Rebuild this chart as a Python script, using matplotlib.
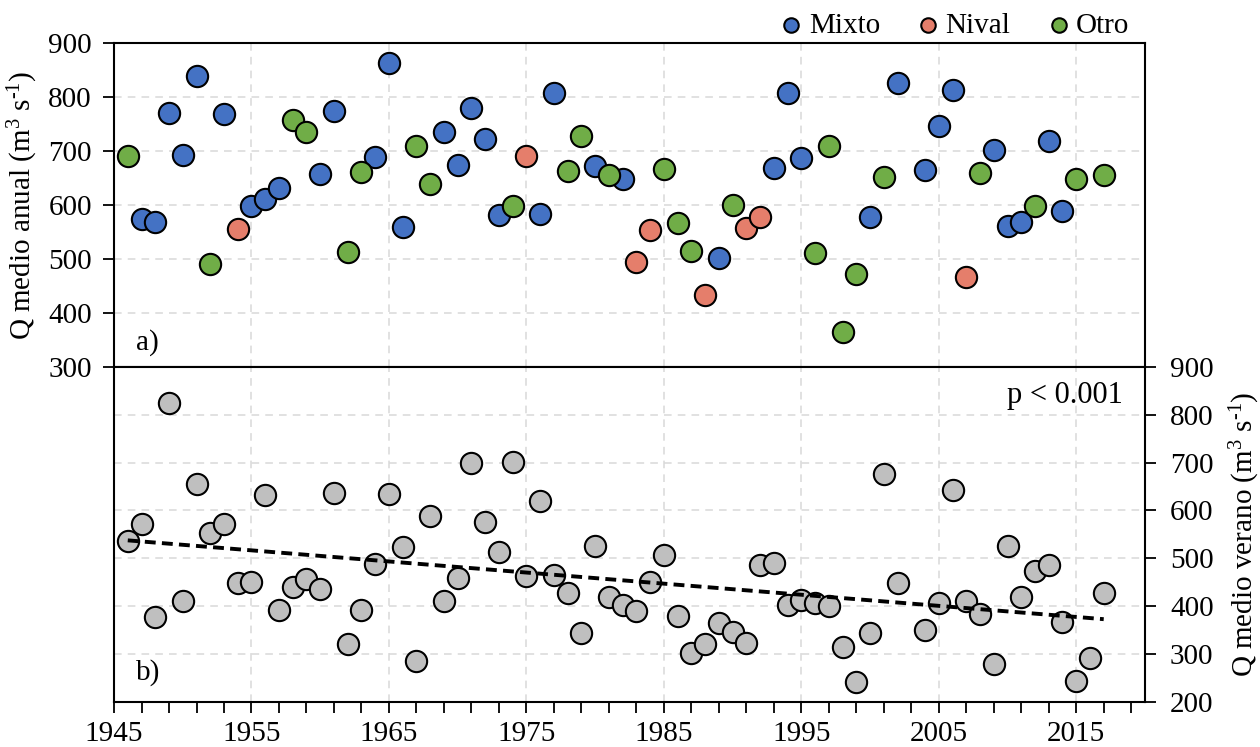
import numpy as np
import matplotlib
matplotlib.use("Agg")
import matplotlib.pyplot as plt
from matplotlib.ticker import FixedLocator

plt.rcParams['font.family'] = ['Liberation Serif', 'DejaVu Serif']
plt.rcParams['mathtext.fontset'] = 'custom'
plt.rcParams['mathtext.rm'] = 'Liberation Serif'
plt.rcParams['mathtext.it'] = 'Liberation Serif:italic'

# panel a) annual mean discharge, by regime
years_mixto = [1947, 1948, 1949, 1950, 1951, 1953, 1955, 1956, 1957, 1960, 1961, 1964, 1965,
               1966, 1969, 1970, 1971, 1972, 1973, 1976, 1977, 1980, 1982, 1989, 1993, 1994,
               1995, 2000, 2002, 2004, 2005, 2006, 2009, 2010, 2011, 2013, 2014]
q_mixto = [574, 569, 770, 692, 839, 768, 597, 611, 631, 657, 774, 689, 862,
           559, 735, 673, 780, 721, 582, 583, 807, 671, 647, 502, 669, 807,
           687, 578, 825, 665, 745, 812, 701, 561, 569, 718, 588]

years_nival = [1954, 1975, 1983, 1984, 1988, 1991, 1992, 2007]
q_nival = [555, 691, 495, 553, 433, 557, 578, 467]

years_otro = [1946, 1952, 1958, 1959, 1962, 1963, 1967, 1968, 1974, 1978, 1979, 1981, 1985,
              1986, 1987, 1990, 1996, 1997, 1998, 1999, 2001, 2008, 2012, 2015, 2017]
q_otro = [690, 490, 757, 734, 513, 660, 708, 638, 598, 662, 728, 655, 666,
          566, 514, 600, 511, 708, 364, 472, 652, 659, 597, 648, 655]

# panel b) summer mean discharge
years_verano = [1946, 1947, 1948, 1949, 1950, 1951, 1952, 1953, 1954, 1955, 1956, 1957, 1958,
                1959, 1960, 1961, 1962, 1963, 1964, 1965, 1966, 1967, 1968, 1969, 1970, 1971,
                1972, 1973, 1974, 1975, 1976, 1977, 1978, 1979, 1980, 1981, 1982, 1983, 1984,
                1985, 1986, 1987, 1988, 1989, 1990, 1991, 1992, 1993, 1994, 1995, 1996, 1997,
                1998, 1999, 2000, 2001, 2002, 2004, 2005, 2006, 2007, 2008, 2009, 2010, 2011,
                2012, 2013, 2014, 2015, 2016, 2017]
q_verano = [537, 572, 378, 824, 411, 655, 552, 572, 449, 450, 633, 392, 439,
            457, 436, 637, 321, 392, 488, 635, 524, 285, 589, 411, 458, 699,
            576, 514, 702, 462, 620, 465, 427, 343, 526, 418, 402, 390, 450,
            507, 379, 301, 320, 365, 346, 323, 486, 490, 402, 413, 406, 400,
            315, 242, 343, 676, 448, 350, 406, 643, 411, 383, 278, 526, 420,
            474, 486, 366, 244, 291, 428]

fs = 21
grid_kw = dict(color='#d9d9d9', linestyle=(0, (5, 4)), linewidth=1.1)

fig = plt.figure(figsize=(12.6, 7.47), dpi=100)
ax1 = fig.add_axes([0.0905, 0.5087, 0.8182, 0.4341])
ax2 = fig.add_axes([0.0905, 0.0606, 0.8182, 0.4481])

mk = dict(s=235, edgecolors='black', linewidths=1.5, zorder=3)
ax1.scatter(years_mixto, q_mixto, color='#4472c4', label='Mixto', **mk)
ax1.scatter(years_nival, q_nival, color='#e57e6b', label='Nival', **mk)
ax1.scatter(years_otro, q_otro, color='#70ad47', label='Otro', **mk)

ax1.set_xlim(1945, 2020)
ax1.set_ylim(300, 900)
ax1.set_yticks(range(300, 901, 100))
ax1.set_xticks(range(1945, 2020, 10))
ax1.grid(True, **grid_kw)
ax1.set_axisbelow(True)
ax1.tick_params(axis='x', bottom=False, labelbottom=False)
ax1.tick_params(axis='y', direction='out', length=8, width=1.3, labelsize=fs, pad=8)
ax1.set_ylabel(r'Q medio anual (m$^{3}$ s$^{\text{-}1}$)', fontsize=fs, labelpad=6)
ax1.text(0.021, 0.077, 'a)', transform=ax1.transAxes, fontsize=fs, va='center', ha='left')
ax1.legend(loc='lower right', bbox_to_anchor=(0.985, 1.012), ncol=3, frameon=False,
           fontsize=fs, markerscale=0.68, handlelength=0.7, handletextpad=0.25,
           columnspacing=1.3, borderaxespad=0.0, borderpad=0.0)

ax2.scatter(years_verano, q_verano, color='#bfbfbf', **mk)
slope, intercept = np.polyfit(years_verano, q_verano, 1)
xt = np.array([years_verano[0], years_verano[-1]])
ax2.plot(xt, slope * xt + intercept, color='black', linewidth=2.8,
         linestyle=(0, (2.8, 1.6)), zorder=4)

ax2.set_xlim(1945, 2020)
ax2.set_ylim(200, 900)
ax2.set_xticks(range(1945, 2020, 10))
ax2.xaxis.set_minor_locator(FixedLocator(np.arange(1945, 2021, 2)))
ax2.set_yticks(range(200, 901, 100))
ax2.yaxis.tick_right()
ax2.yaxis.set_label_position('right')
ax2.grid(True, **grid_kw)
ax2.set_axisbelow(True)
ax2.tick_params(axis='x', which='both', direction='out', length=8, width=1.3,
                labelsize=fs, pad=6)
ax2.tick_params(axis='y', direction='out', length=8, width=1.3, labelsize=fs, pad=10)
ax2.set_ylabel(r'Q medio verano (m$^{3}$ s$^{\text{-}1}$)', fontsize=fs, labelpad=10, rotation=90)
ax2.text(0.021, 0.086, 'b)', transform=ax2.transAxes, fontsize=fs, va='center', ha='left')
ax2.text(0.979, 0.916, 'p < 0.001', transform=ax2.transAxes, fontsize=fs + 1, va='center', ha='right')

for ax in (ax1, ax2):
    for sp in ax.spines.values():
        sp.set_linewidth(1.5)

fig.savefig('out.png', dpi=100)
